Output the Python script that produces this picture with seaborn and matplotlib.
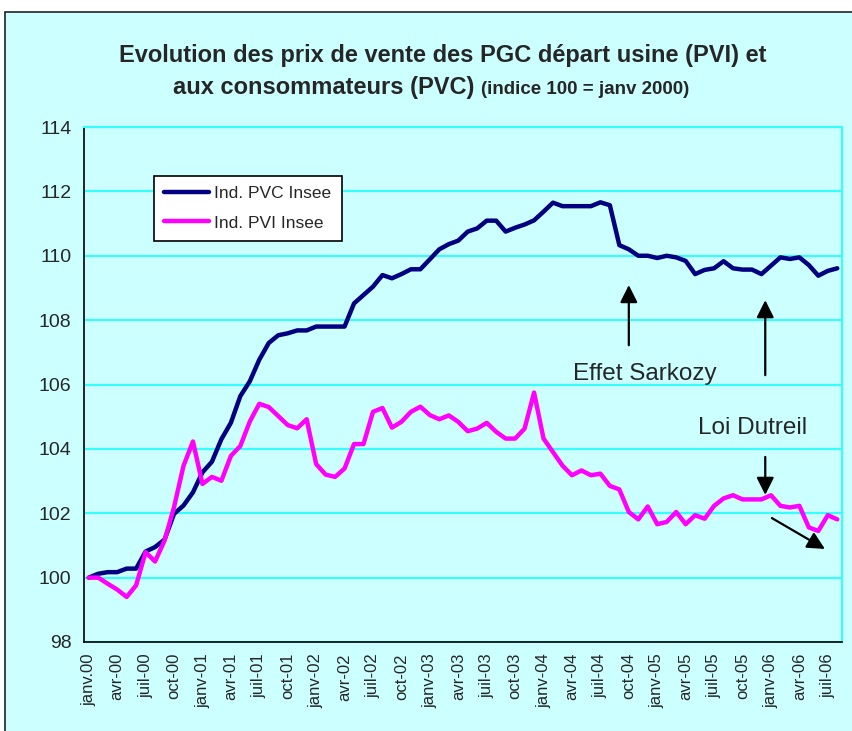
import numpy as np
import pandas as pd
import matplotlib
matplotlib.use("Agg")
import matplotlib.pyplot as plt
import matplotlib.patches as mpatches
import seaborn as sns

# Monthly index values, janv 2000 .. aout 2006 (100 = janv 2000)
pvc = [100.0, 100.12, 100.17, 100.17, 100.28, 100.28, 100.81, 100.95, 101.18, 101.98,
       102.24, 102.65, 103.27, 103.6, 104.3, 104.81, 105.64, 106.1, 106.77, 107.29,
       107.53, 107.59, 107.68, 107.68, 107.8, 107.8, 107.8, 107.8, 108.52, 108.78,
       109.04, 109.4, 109.3, 109.43, 109.58, 109.58, 109.89, 110.2, 110.36, 110.47,
       110.75, 110.85, 111.09, 111.09, 110.75, 110.87, 110.97, 111.1, 111.37, 111.65,
       111.54, 111.54, 111.54, 111.54, 111.66, 111.57, 110.33, 110.2, 110.0, 110.0,
       109.93, 110.0, 109.95, 109.84, 109.43, 109.56, 109.61, 109.83, 109.61, 109.57,
       109.57, 109.43, 109.69, 109.95, 109.9, 109.95, 109.71, 109.38, 109.53, 109.61]
pvi = [100.0, 100.0, 99.81, 99.63, 99.4, 99.76, 100.79, 100.5, 101.15, 102.19,
       103.47, 104.23, 102.91, 103.13, 103.01, 103.78, 104.09, 104.85, 105.4, 105.3,
       105.02, 104.74, 104.64, 104.92, 103.53, 103.2, 103.13, 103.39, 104.15, 104.15,
       105.15, 105.27, 104.66, 104.84, 105.15, 105.31, 105.05, 104.92, 105.04, 104.84,
       104.55, 104.63, 104.81, 104.53, 104.32, 104.32, 104.63, 105.75, 104.32, 103.9,
       103.48, 103.18, 103.33, 103.18, 103.23, 102.85, 102.74, 102.04, 101.81, 102.21,
       101.66, 101.73, 102.04, 101.66, 101.94, 101.83, 102.23, 102.46, 102.56, 102.43,
       102.43, 102.43, 102.56, 102.23, 102.18, 102.23, 101.56, 101.45, 101.94, 101.81]

month_labels = ["janv", "avr", "juil", "oct"]
years = ["00", "01", "02", "03", "04", "05", "06"]
tick_labels = [f"{m}-{y}" for y in years for m in month_labels][:27]
tick_labels[0] = "janv.00"

series_names = ["Ind. PVC Insee", "Ind. PVI Insee"]
colors = ["#000080", "#FF00FF"]

df = pd.DataFrame({"mois": np.arange(len(pvc)), "pvc": pvc, "pvi": pvi})

sns.set_style("white")
plt.rcParams["font.family"] = ["Liberation Sans", "DejaVu Sans"]

bg = "#CCFFFF"
grid_c = "#33FFFF"

fig = plt.figure(figsize=(8.52, 7.31), dpi=100)
fig.patch.set_facecolor("white")
fig.patches.append(mpatches.Rectangle((5 / 852, -0.01), 1.0, 1 - 12 / 731 + 0.01,
                                      transform=fig.transFigure, facecolor=bg,
                                      edgecolor="#222222", lw=1.2, zorder=-10))

ax = fig.add_axes([84 / 852, (731 - 642) / 731, 758 / 852, 515 / 731])
ax.set_facecolor(bg)

for col, name, c in zip(["pvc", "pvi"], series_names, colors):
    sns.lineplot(data=df, x="mois", y=col, ax=ax, color=c, lw=3.2, label=name)

ax.set_xlim(-0.5, len(pvc) - 0.5)
ax.set_ylim(98, 114)
ax.set_yticks(np.arange(98, 115, 2))
ax.yaxis.grid(True, color=grid_c, lw=1.5)
ax.set_axisbelow(True)
ax.set_xlabel("")
ax.set_ylabel("")

ax.set_xticks(np.arange(0, len(pvc), 3))
ax.set_xticklabels(tick_labels, rotation=90, fontsize=12)
ax.set_xticks(np.arange(-0.5, len(pvc), 1), minor=True)
ax.tick_params(axis="x", which="major", length=0, pad=8)
ax.tick_params(axis="x", which="minor", length=5, width=1, color="black", direction="out")
ax.tick_params(axis="y", length=5, width=1, color="black", direction="out", labelsize=14, pad=4)

for s in ["left", "bottom"]:
    ax.spines[s].set_color("black")
    ax.spines[s].set_linewidth(1.2)
for s in ["top", "right"]:
    ax.spines[s].set_color(grid_c)
    ax.spines[s].set_linewidth(1.5)

leg = ax.legend(loc="upper left", bbox_to_anchor=(0.092, 0.905), borderaxespad=0,
                fontsize=12.5, fancybox=False, frameon=True, handlelength=2.6,
                labelspacing=0.8, borderpad=0.6, handletextpad=0.3)
leg.get_frame().set_edgecolor("black")
leg.get_frame().set_facecolor("white")
leg.get_frame().set_linewidth(1.2)
leg.get_frame().set_alpha(1)
for h in leg.get_lines():
    h.set_linewidth(3.2)

arrow = dict(arrowstyle="-|>,head_length=0.7,head_width=0.35", color="black",
             lw=1.6, shrinkA=0, shrinkB=0, mutation_scale=15)
ax.annotate("", xy=(57.0, 109.09), xytext=(57.0, 107.22), arrowprops=arrow)
ax.annotate("", xy=(71.4, 108.62), xytext=(71.4, 106.29), arrowprops=arrow)
ax.annotate("", xy=(71.4, 102.57), xytext=(71.4, 103.75), arrowprops=arrow)
ax.annotate("", xy=(77.7, 100.89), xytext=(72.1, 101.85), arrowprops=arrow)
ax.text(51.1, 106.32, "Effet Sarkozy", fontsize=17.5, ha="left", va="center")
ax.text(70.1, 104.65, "Loi Dutreil", fontsize=17.5, ha="center", va="center")

fig.text(443 / 852, 1 - 62 / 731,
         "Evolution des prix de vente des PGC départ usine (PVI) et",
         fontsize=17, fontweight="bold", ha="center", va="baseline")
fig.text(474 / 852, 1 - 94 / 731, "aux consommateurs (PVC)",
         fontsize=17, fontweight="bold", ha="right", va="baseline")
fig.text(481 / 852, 1 - 94 / 731, "(indice 100 = janv 2000)",
         fontsize=13.5, fontweight="bold", ha="left", va="baseline")

fig.savefig("out.png", dpi=100, facecolor=fig.get_facecolor())
